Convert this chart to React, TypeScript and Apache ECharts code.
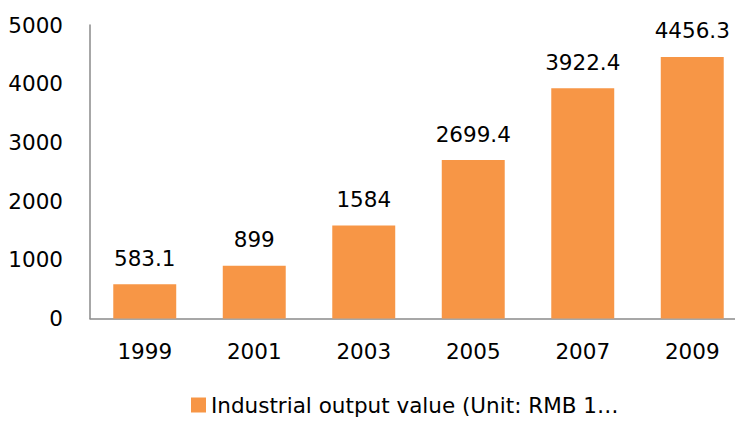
import React, { useEffect, useRef } from "react";
import * as echarts from "echarts";

const categories = ["1999", "2001", "2003", "2005", "2007", "2009"];
const values = [583.1, 899, 1584, 2699.4, 3922.4, 4456.3];
const seriesName = "Industrial output value (Unit: RMB 1…";
const yTicks = { min: 0, max: 5000, interval: 1000 };

export default function App() {
  const ref = useRef<HTMLDivElement>(null);
  useEffect(() => {
    const chart = echarts.init(ref.current!, undefined, { renderer: "svg" });
    const font = "'DejaVu Sans', sans-serif";
    chart.setOption({
      animation: false,
      textStyle: { fontFamily: font },
      grid: { left: 90, right: 3, top: 25, bottom: 102.5, containLabel: false },
      legend: {
        left: 186,
        bottom: 0,
        itemWidth: 15,
        itemHeight: 15,
        itemGap: 7,
        icon: "rect",
        textStyle: { fontSize: 21.5, color: "#000", fontFamily: font },
        data: [seriesName],
      },
      xAxis: {
        type: "category",
        data: categories,
        axisLine: { lineStyle: { color: "#8a8a8a", width: 1.5 } },
        axisTick: { show: false },
        axisLabel: { fontSize: 21.5, color: "#000", margin: 22, fontFamily: font },
      },
      yAxis: {
        type: "value",
        min: yTicks.min,
        max: yTicks.max,
        interval: yTicks.interval,
        axisLine: { show: true, lineStyle: { color: "#8a8a8a", width: 1.5 } },
        axisTick: { show: false },
        splitLine: { show: false },
        axisLabel: {
          fontSize: 21.5,
          color: "#000",
          margin: 27,
          fontFamily: font,
          formatter: (v: number) => String(v),
        },
      },
      series: [
        {
          name: seriesName,
          type: "bar",
          data: values,
          barWidth: "57.5%",
          itemStyle: { color: "#F79646" },
          label: {
            show: true,
            position: "top",
            distance: 15,
            fontSize: 21.5,
            color: "#000",
            fontFamily: font,
          },
        },
      ],
    });
    return () => chart.dispose();
  }, []);
  return (
    <div style={{ width: 735, height: 421, position: "absolute", left: 0, top: 0, overflow: "hidden" }}>
      <div ref={ref} style={{ width: 750, height: 421 }} />
    </div>
  );
}
